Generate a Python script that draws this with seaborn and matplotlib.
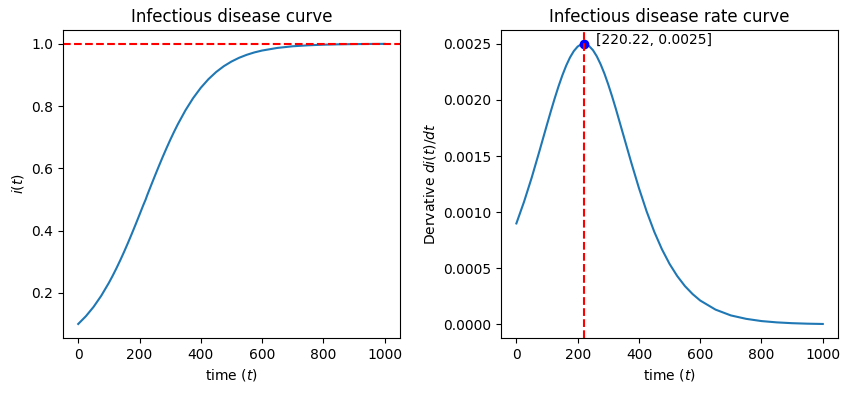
import matplotlib
matplotlib.use("Agg")
import matplotlib.pyplot as plt
import seaborn as sns
import pandas as pd

# values
time = [0, 25, 50, 75, 100, 112.5, 125, 137.5, 150, 162.5, 175, 187.5, 200,
        212.5, 220.22, 225, 237.5, 250, 262.5, 275, 287.5, 300, 312.5, 325,
        350, 375, 400, 425, 450, 475, 500, 525, 550, 575, 600, 650, 700, 750,
        800, 850, 900, 950, 1000]
infected = [0.1000, 0.1249, 0.1548, 0.1904, 0.2320, 0.2550, 0.2795, 0.3053,
            0.3324, 0.3607, 0.3900, 0.4201, 0.4509, 0.4820, 0.5000, 0.5132,
            0.5443, 0.5751, 0.6053, 0.6348, 0.6632, 0.6906, 0.7166, 0.7413,
            0.7863, 0.8253, 0.8585, 0.8862, 0.9091, 0.9278, 0.9428, 0.9549,
            0.9645, 0.9722, 0.9782, 0.9866, 0.9919, 0.9950, 0.9970, 0.9982,
            0.9989, 0.9993, 0.9996]
rate = [0.000900, 0.001093, 0.001308, 0.001542, 0.001782, 0.001900, 0.002014,
        0.002121, 0.002219, 0.002306, 0.002379, 0.002436, 0.002476, 0.002497,
        0.002500, 0.002498, 0.002480, 0.002444, 0.002389, 0.002318, 0.002234,
        0.002137, 0.002031, 0.001918, 0.001680, 0.001442, 0.001215, 0.001008,
        0.000826, 0.000670, 0.000539, 0.000431, 0.000342, 0.000271, 0.000213,
        0.000132, 0.0000803, 0.0000498, 0.0000299, 0.0000183, 0.0000111,
        0.0000067, 0.0000041]
peak_t = 220.22
peak_rate = 0.0025

df = pd.DataFrame({"t": time, "i": infected, "di": rate})

fig, axs = plt.subplots(1, 2, figsize=(8.5, 3.93), dpi=100)
plt.subplots_adjust(left=0.074, right=0.986, bottom=0.140, top=0.924, wspace=0.30)

ax = axs[0]
sns.lineplot(data=df, x="t", y="i", ax=ax, color="C0")
ax.axhline(1.0, color="r", linestyle="--")
ax.set_title("Infectious disease curve")
ax.set_xlabel("time ($t$)")
ax.set_ylabel("$i(t)$")

ax = axs[1]
sns.lineplot(data=df, x="t", y="di", ax=ax, color="C0")
ax.plot(peak_t, peak_rate, "bo")
ax.axvline(peak_t, color="r", linestyle="--")
ax.text(peak_t + 40, peak_rate, f"[{peak_t}, {peak_rate}]")
ax.set_title("Infectious disease rate curve")
ax.set_xlabel("time ($t$)")
ax.set_ylabel("Dervative $di(t)/dt$")

fig.savefig("out.png", dpi=100)
